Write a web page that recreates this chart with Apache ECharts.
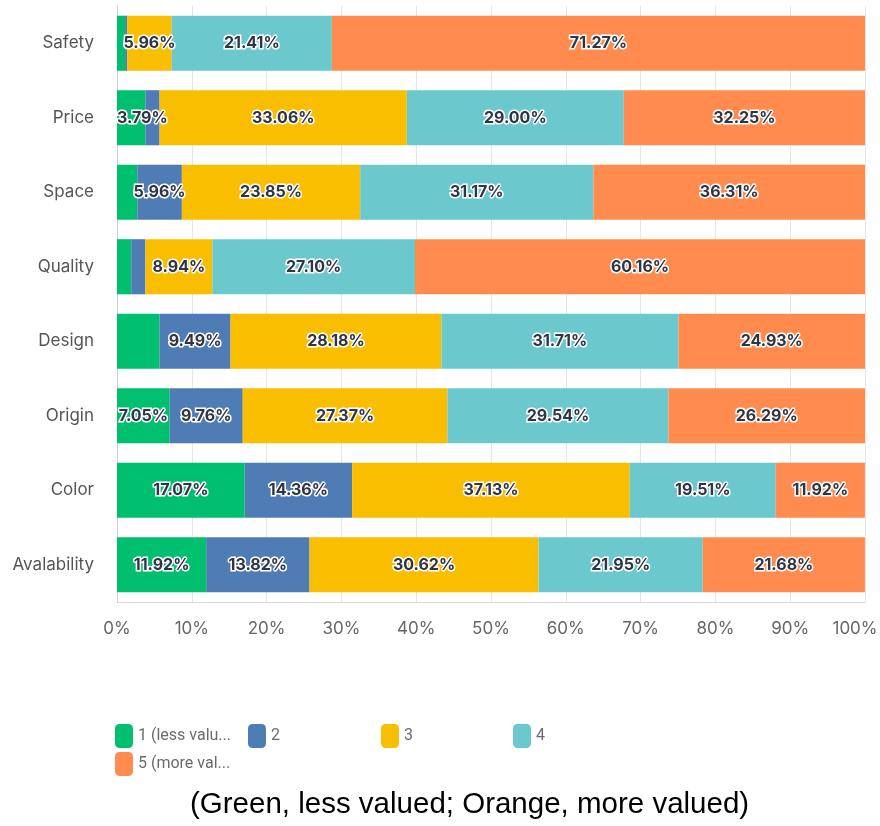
<!DOCTYPE html>
<html>
<head>
<meta charset="utf-8">
<script src="https://cdn.jsdelivr.net/npm/echarts@6/dist/echarts.min.js"></script>
<style>
  html, body { margin: 0; padding: 0; background: #ffffff; }
  #chart { width: 880px; height: 826px; }
</style>
</head>
<body>
<div id="chart"></div>
<script>
// Survey answers: share of respondents (%) giving each rating, per attribute
const categories = ['Safety', 'Price', 'Space', 'Quality', 'Design', 'Origin', 'Color', 'Avalability'];
const seriesNames = ['1 (less valued)', '2', '3', '4', '5 (more valued)'];
const rating1 = [1.08, 3.79, 2.71, 1.90, 5.69, 7.05, 17.07, 11.92];
const rating2 = [0.28, 1.90, 5.96, 1.90, 9.49, 9.76, 14.36, 13.82];
const rating3 = [5.96, 33.06, 23.85, 8.94, 28.18, 27.37, 37.13, 30.62];
const rating4 = [21.41, 29.00, 31.17, 27.10, 31.71, 29.54, 19.51, 21.95];
const rating5 = [71.27, 32.25, 36.31, 60.16, 24.93, 26.29, 11.92, 21.68];
const xTicks = [0, 10, 20, 30, 40, 50, 60, 70, 80, 90, 100];
const caption = '(Green, less valued; Orange, more valued)';

const palette = ['#00bf6f', '#507cb6', '#f9be00', '#6bc8cd', '#ff8b4f'];
const allValues = [rating1, rating2, rating3, rating4, rating5];

const labelStyle = {
  show: true,
  position: 'inside',
  fontFamily: 'Inter',
  fontWeight: 'bold',
  fontSize: 16,
  color: '#2f3544',
  textBorderColor: '#ffffff',
  textBorderWidth: 3,
  formatter: p => p.value.toFixed(2) + '%'
};

// Segments narrower than 3% carry no label; a narrow first segment is
// labelled (left-aligned) only when its neighbour leaves room for it.
const series = allValues.map((vals, si) => ({
  name: seriesNames[si],
  type: 'bar',
  stack: 'total',
  barCategoryGap: '26%',
  itemStyle: { color: palette[si] },
  label: labelStyle,
  data: vals.map((v, ci) => {
    const item = { value: v };
    if (v < 3) {
      item.label = { show: false };
    } else if (si === 0 && v < 6.5) {
      if (allValues[1][ci] >= 3) {
        item.label = { show: false };
      } else {
        item.label = { position: 'insideLeft', distance: 0 };
      }
    }
    return item;
  })
}));

// One legend per entry so the items sit on a fixed four-column layout
const legendCols = [110, 243, 376, 508, 110];
const legendRows = [719, 719, 719, 719, 747];
const legends = seriesNames.map((name, i) => ({
  left: legendCols[i],
  top: legendRows[i],
  orient: 'horizontal',
  itemWidth: 18,
  itemHeight: 24,
  itemGap: 6,
  icon: 'roundRect',
  selectedMode: false,
  data: [name],
  textStyle: {
    fontFamily: 'Roboto',
    fontSize: 16,
    color: '#6b6b6b',
    width: 97,
    overflow: 'truncate',
    ellipsis: '...'
  }
}));

const lastTick = xTicks[xTicks.length - 1];

const chart = echarts.init(document.getElementById('chart'));
chart.setOption({
  backgroundColor: '#ffffff',
  animation: false,
  grid: { left: 117, right: 15, top: 6, bottom: 224, containLabel: false, outerBoundsMode: 'none' },
  xAxis: {
    type: 'value',
    min: xTicks[0],
    max: lastTick,
    interval: 10,
    axisLine: { show: true, lineStyle: { color: '#d8d8d8' } },
    axisTick: { show: false },
    splitLine: { show: true, lineStyle: { color: '#e6e6e6' } },
    axisLabel: {
      margin: 18,
      fontFamily: 'Inter',
      fontSize: 17,
      color: '#666666',
      // the final label is nudged inward so it stays on the canvas
      formatter: v => (v === lastTick ? '{end|' + v + '%}' : v + '%'),
      rich: {
        end: {
          fontFamily: 'Inter',
          fontSize: 17,
          color: '#666666',
          padding: [0, 20, 0, 0]
        }
      }
    }
  },
  yAxis: {
    type: 'category',
    inverse: true,
    data: categories,
    axisLine: { show: true, lineStyle: { color: '#d0d0d0' } },
    axisTick: { show: false },
    axisLabel: {
      margin: 23,
      fontFamily: 'Inter',
      fontSize: 17,
      color: '#555555'
    }
  },
  legend: legends,
  graphic: [{
    type: 'text',
    left: 190,
    top: 790,
    style: {
      text: caption,
      fontFamily: 'Liberation Sans',
      fontSize: 29.5,
      fill: '#000000'
    }
  }],
  series: series
});
</script>
</body>
</html>
